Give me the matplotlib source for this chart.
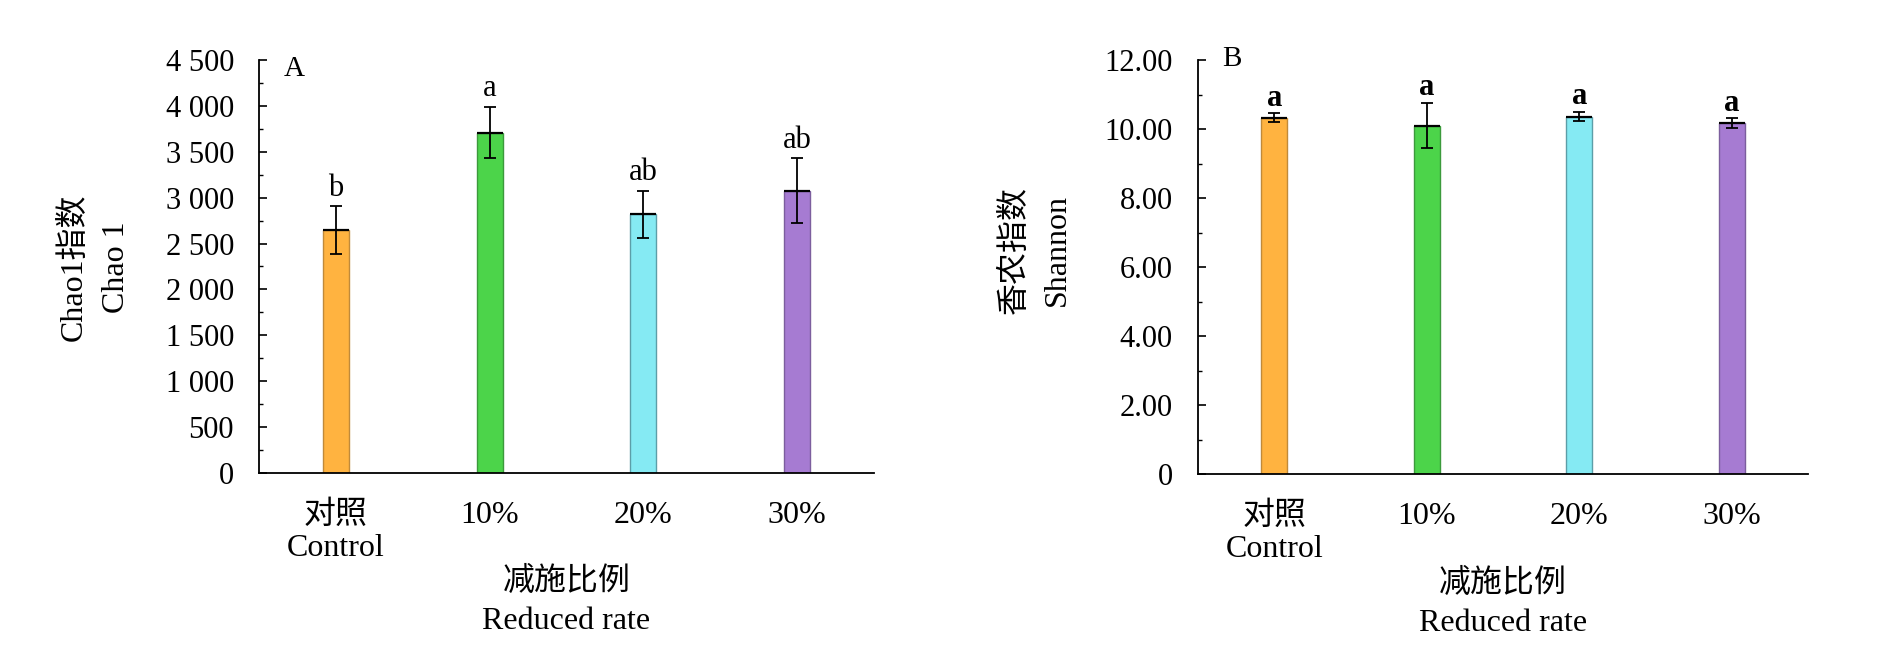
import numpy as np
import matplotlib
matplotlib.use('Agg')
import matplotlib.pyplot as plt
from matplotlib.ticker import MultipleLocator, FuncFormatter

# 西文用 Times 类字体, 中文回退到 CJK 字体
plt.rcParams['font.family'] = ['Liberation Serif', 'Noto Sans CJK SC']
plt.rcParams['font.size'] = 22

# 处理组
groups = ['对照\nControl', '10%', '20%', '30%']
bar_colors = ['#FFB340', '#4CD44A', '#85EAF3', '#A67BD2']
edge_colors = ['#C08A3A', '#3C9A3C', '#5C9EA8', '#7C5E9E']

# Chao1 指数
chao1 = [2650, 3710, 2820, 3075]
chao1_err = [260, 280, 255, 355]
chao1_sig = ['b', 'a', 'ab', 'ab']

# 香农指数
shannon = [10.33, 10.10, 10.36, 10.17]
shannon_err = [0.12, 0.66, 0.14, 0.14]
shannon_sig = ['a', 'a', 'a', 'a']


def fmt_chao(v, pos):
    return f"{v:,.0f}".replace(',', ' ')


def fmt_shannon(v, pos):
    return '0' if v == 0 else f"{v:.2f}"


def draw_panel(ax, values, errs, sigs, ymax, ystep, formatter, tag, tag_y,
               ylab_cn, ylab_en, ylab_y, sig_bold, sig_offset):
    x = np.arange(len(groups))
    w = 0.17
    ax.bar(x, values, width=w, color=bar_colors, edgecolor=edge_colors,
           linewidth=1.0, zorder=2)
    ax.hlines(values, x - w / 2, x + w / 2, color='black', lw=1.6, zorder=3)
    ax.errorbar(x, values, yerr=errs, fmt='none', ecolor='black',
                elinewidth=1.3, capsize=4, capthick=1.3, zorder=4)
    for xi, v, e, s in zip(x, values, errs, sigs):
        ax.annotate(s, (xi, v + e), xytext=(0, sig_offset),
                    textcoords='offset points', ha='center', va='baseline',
                    fontsize=22, fontweight='bold' if sig_bold else 'normal')

    ax.set_xlim(-0.5, len(groups) - 0.5)
    ax.set_ylim(0, ymax)
    ax.yaxis.set_major_locator(MultipleLocator(ystep))
    ax.yaxis.set_minor_locator(MultipleLocator(ystep / 2))
    ax.yaxis.set_major_formatter(FuncFormatter(formatter))
    ax.set_xticks(x)
    ax.set_xticklabels(groups, fontsize=23, linespacing=1.15)

    for side in ['top', 'right']:
        ax.spines[side].set_visible(False)
    for side in ['left', 'bottom']:
        ax.spines[side].set_linewidth(1.3)

    ax.tick_params(axis='y', which='major', direction='in', length=6,
                   width=1.2, pad=18, labelsize=22)
    ax.tick_params(axis='y', which='minor', direction='in', length=3,
                   width=1.0)
    ax.tick_params(axis='x', direction='in', length=0, pad=20)

    ax.text(0.04, tag_y, tag, transform=ax.transAxes, fontsize=21,
            ha='left', va='baseline')

    ax.text(-0.300, ylab_y, ylab_cn, transform=ax.transAxes, rotation=90,
            ha='center', va='center', fontsize=23)
    ax.text(-0.231, ylab_y, ylab_en, transform=ax.transAxes, rotation=90,
            ha='center', va='center', fontsize=23)

    ax.text(0.5, -0.228, '减施比例', transform=ax.transAxes,
            ha='center', va='top', fontsize=23)
    ax.text(0.5, -0.325, 'Reduced rate', transform=ax.transAxes,
            ha='center', va='top', fontsize=23)


fig = plt.figure(figsize=(18.9, 6.5), dpi=100)
ax1 = fig.add_axes([259 / 1890, 177 / 650, 615 / 1890, 413 / 650])
ax2 = fig.add_axes([1198 / 1890, 176 / 650, 610 / 1890, 414 / 650])

draw_panel(ax1, chao1, chao1_err, chao1_sig, 4500, 500, fmt_chao, 'A', 0.961,
           'Chao1指数', 'Chao 1', 0.497, False, 7.5)
draw_panel(ax2, shannon, shannon_err, shannon_sig, 12, 2, fmt_shannon, 'B', 0.985,
           '香农指数', 'Shannon', 0.542, True, 5.5)

fig.savefig('out.png', dpi=100)
